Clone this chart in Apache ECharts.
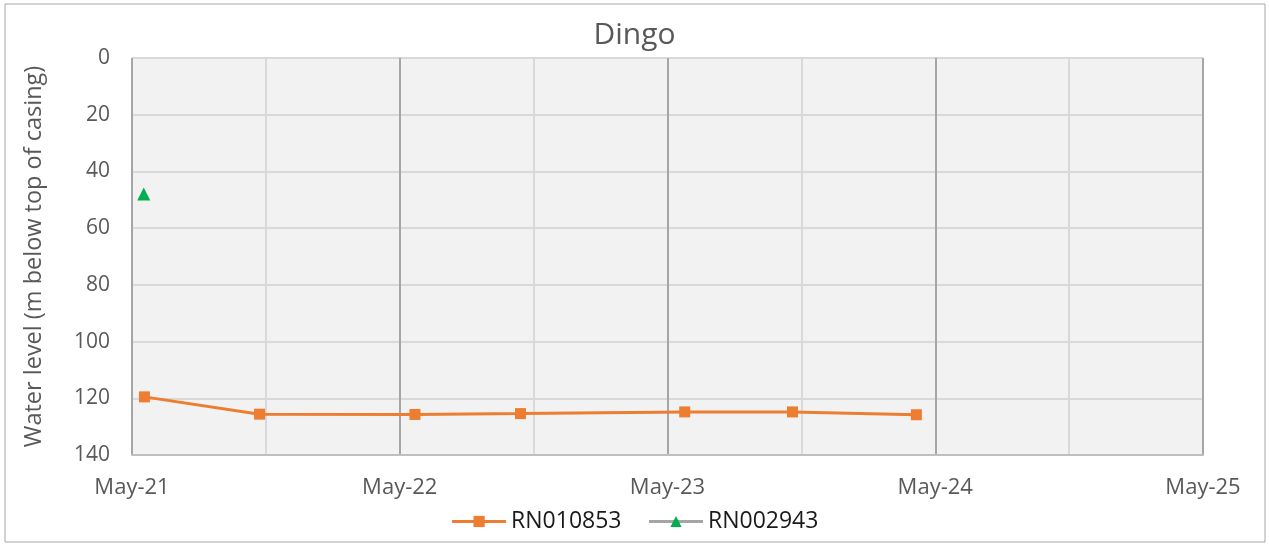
<!DOCTYPE html>
<html>
<head>
<meta charset="utf-8">
<script src="https://cdn.jsdelivr.net/npm/echarts@6/dist/echarts.min.js"></script>
<style>
html,body{margin:0;padding:0;background:#fff;}
#c{width:1269px;height:546px;}
</style>
</head>
<body>
<div id="c"></div>
<script>
// Data
const seriesNames = ['RN010853', 'RN002943'];
const rn010853Dates = ['2021-05-18', '2021-10-22', '2022-05-22', '2022-10-13', '2023-05-25', '2023-10-19', '2024-04-05'];
const rn010853Values = [119.5, 125.6, 125.7, 125.4, 124.8, 124.8, 125.8];
const rn002943Dates = ['2021-05-17'];
const rn002943Values = [48];
const axisStart = '2021-05-01';
const axisEnd = '2025-05-01';
const yTicks = [0, 20, 40, 60, 80, 100, 120, 140];
const monthNames = ['Jan','Feb','Mar','Apr','May','Jun','Jul','Aug','Sep','Oct','Nov','Dec'];

const ts = s => Date.parse(s + 'T00:00:00Z');
const DAY = 86400000;
const xMin = ts(axisStart);
const xMax = ts(axisEnd);
const xInterval = (xMax - xMin) / 4;

const pairs = (d, v) => d.map((s, i) => [ts(s), v[i]]);

const FONT = '"Open Sans", "Noto Sans", sans-serif';
const chart = echarts.init(document.getElementById('c'), null, {renderer: 'canvas'});
chart.setOption({
  backgroundColor: '#fff',
  animation: false,
  title: {
    text: 'Dingo',
    left: 'center',
    top: 15,
    textStyle: {fontFamily: FONT, fontSize: 30, fontWeight: 'normal', color: '#595959'}
  },
  graphic: [{
    type: 'rect',
    shape: {x: 5, y: 4, width: 1260, height: 538},
    style: {fill: 'none', stroke: '#a6a6a6', lineWidth: 1},
    silent: true, z: -10
  }],
  legend: {
    bottom: 8,
    left: 'center',
    itemWidth: 54,
    itemHeight: 14,
    itemGap: 26,
    textStyle: {fontFamily: FONT, fontSize: 23, color: '#1a1a1a'},
    lineStyle: {width: 3},
    data: seriesNames
  },
  grid: {
    left: 132, right: 66, top: 58, bottom: 91,
    show: true, backgroundColor: '#f2f2f2', borderWidth: 0
  },
  xAxis: {
    type: 'value',
    min: xMin, max: xMax, interval: xInterval,
    axisLine: {show: true, onZero: false, lineStyle: {color: '#bfbfbf', width: 2}},
    axisTick: {show: false},
    splitLine: {show: true, lineStyle: {color: '#a6a6a6', width: 2}},
    minorTick: {show: false, splitNumber: 2},
    minorSplitLine: {show: true, lineStyle: {color: '#d9d9d9', width: 2}},
    axisLabel: {
      margin: 22,
      fontFamily: FONT, fontSize: 22, color: '#595959',
      formatter: v => {
        const d = new Date(v + DAY / 2);
        return monthNames[d.getUTCMonth()] + '-' + String(d.getUTCFullYear()).slice(2);
      }
    }
  },
  yAxis: {
    type: 'value',
    inverse: true,
    min: yTicks[0], max: yTicks[yTicks.length - 1], interval: 20,
    name: 'Water level (m below top of casing)',
    nameLocation: 'middle',
    nameGap: 86,
    nameTextStyle: {fontFamily: FONT, fontSize: 23.5, color: '#595959'},
    axisLine: {show: false},
    axisTick: {show: false},
    splitLine: {show: true, lineStyle: {color: '#d9d9d9', width: 2}},
    axisLabel: {margin: 22, fontFamily: FONT, fontSize: 21, color: '#595959'}
  },
  series: [
    {
      name: seriesNames[0],
      type: 'line',
      data: pairs(rn010853Dates, rn010853Values),
      symbol: 'rect', symbolSize: 11,
      lineStyle: {color: '#ed7d31', width: 3},
      itemStyle: {color: '#ed7d31'}
    },
    {
      name: seriesNames[1],
      type: 'line',
      data: pairs(rn002943Dates, rn002943Values),
      symbol: 'triangle', symbolSize: 13,
      lineStyle: {color: '#a5a5a5', width: 3},
      itemStyle: {color: '#00b050'}
    }
  ]
});
</script>
</body>
</html>
